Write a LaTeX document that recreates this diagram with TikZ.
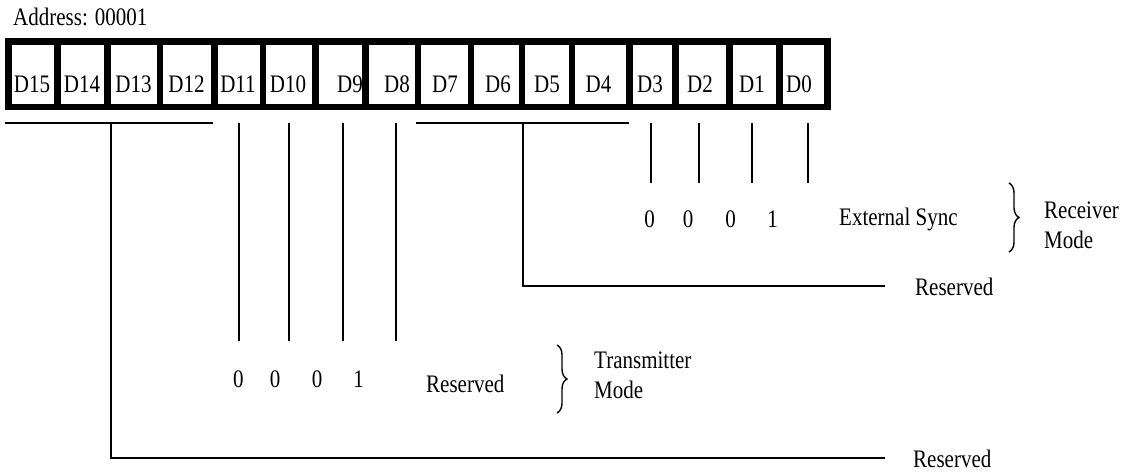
\documentclass[tikz,border=0pt]{standalone}
\usepackage{fontspec}
\usepackage{graphicx}
\setmainfont{Liberation Serif}
\usetikzlibrary{decorations.pathreplacing}
\newcommand{\stretchtxt}[1]{\scalebox{1}[1.2]{#1}}
\begin{document}
\begin{tikzpicture}[x=1pt,y=-1pt,
  lbl/.style={inner sep=0pt, anchor=base, font=\fontsize{21}{25}\selectfont},
  lbll/.style={lbl, anchor=base west},
  wire/.style={line width=2pt},
  regline/.style={line width=6.5pt},
  brc/.style={decorate, decoration={brace, amplitude=10pt}, line width=1.4pt}]
\useasboundingbox (0,0) rectangle (1127,472);

% title
\node[lbll] (addr) at (13,25) {\stretchtxt{Address: 00001}};

% register box
\draw[regline] (8.5,41.5) rectangle (827.5,107);
\foreach \x in {57.5,107.5,160,214.5,263,315.5,365.5,418,471,522,572,629.5,675.5,729.5,779.5}
  \draw[regline] (\x,41.5) -- (\x,107);

% bit labels
\foreach \n/\x in {15/32,14/82,13/133.5,12/186.5,11/238,10/288,9/350,8/397,7/445,6/498,5/547,4/598.5,3/650,2/700,1/752,0/799}
  \node[lbl] (d\n) at (\x,92) {\stretchtxt{D\n}};

% D15-D12 reserved group
\coordinate (g1l) at (5,122.7);
\coordinate (g1r) at (213,122.7);
\coordinate (g1t) at (110.7,122.7);
\coordinate (g1c) at (110.7,458);
\coordinate (g1e) at (885,458);
\draw[wire] (g1l) -- (g1r);
\draw[wire] (g1t) -- (g1c) -- (g1e);
\node[lbll] (res3) at (913,467) {\stretchtxt{Reserved}};

% D11-D8 transmitter mode
\foreach \i/\x in {11/239,10/289,9/342.5,8/395.5}{
  \coordinate (t\i a) at (\x,122.7);
  \coordinate (t\i b) at (\x,341);
  \draw[wire] (t\i a) -- (t\i b);
}
\node[lbl] (tx3) at (238.3,387) {\stretchtxt{0}};
\node[lbl] (tx2) at (275,387) {\stretchtxt{0}};
\node[lbl] (tx1) at (317,387) {\stretchtxt{0}};
\node[lbl] (tx0) at (358.7,387) {\stretchtxt{1}};
\node[lbll] (res2) at (426,392) {\stretchtxt{Reserved}};
\coordinate (bt1) at (557,345);
\coordinate (bt2) at (557,413);
\draw[brc] (bt1) -- (bt2);
\node[lbll] (tm1) at (594,368) {\stretchtxt{Transmitter}};
\node[lbll] (tm2) at (594,398) {\stretchtxt{Mode}};

% D7-D4 reserved group
\coordinate (g2l) at (416,122.7);
\coordinate (g2r) at (629,122.7);
\coordinate (g2t) at (522.7,122.7);
\coordinate (g2c) at (522.7,286);
\coordinate (g2e) at (885,286);
\draw[wire] (g2l) -- (g2r);
\draw[wire] (g2t) -- (g2c) -- (g2e);
\node[lbll] (res1) at (915,295) {\stretchtxt{Reserved}};

% D3-D0 receiver mode
\foreach \i/\x in {3/651,2/699,1/752,0/808}{
  \coordinate (r\i a) at (\x,123);
  \coordinate (r\i b) at (\x,182.5);
  \draw[wire] (r\i a) -- (r\i b);
}
\node[lbl] (rx3) at (649.5,227) {\stretchtxt{0}};
\node[lbl] (rx2) at (688,227) {\stretchtxt{0}};
\node[lbl] (rx1) at (730.7,227) {\stretchtxt{0}};
\node[lbl] (rx0) at (772.7,227) {\stretchtxt{1}};
\node[lbll] (ext) at (839,225) {\stretchtxt{External Sync}};
\coordinate (br1) at (1009,183);
\coordinate (br2) at (1009,252);
\draw[brc] (br1) -- (br2);
\node[lbll] (rm1) at (1044,218) {\stretchtxt{Receiver}};
\node[lbll] (rm2) at (1044,248) {\stretchtxt{Mode}};
\end{tikzpicture}
\end{document}
